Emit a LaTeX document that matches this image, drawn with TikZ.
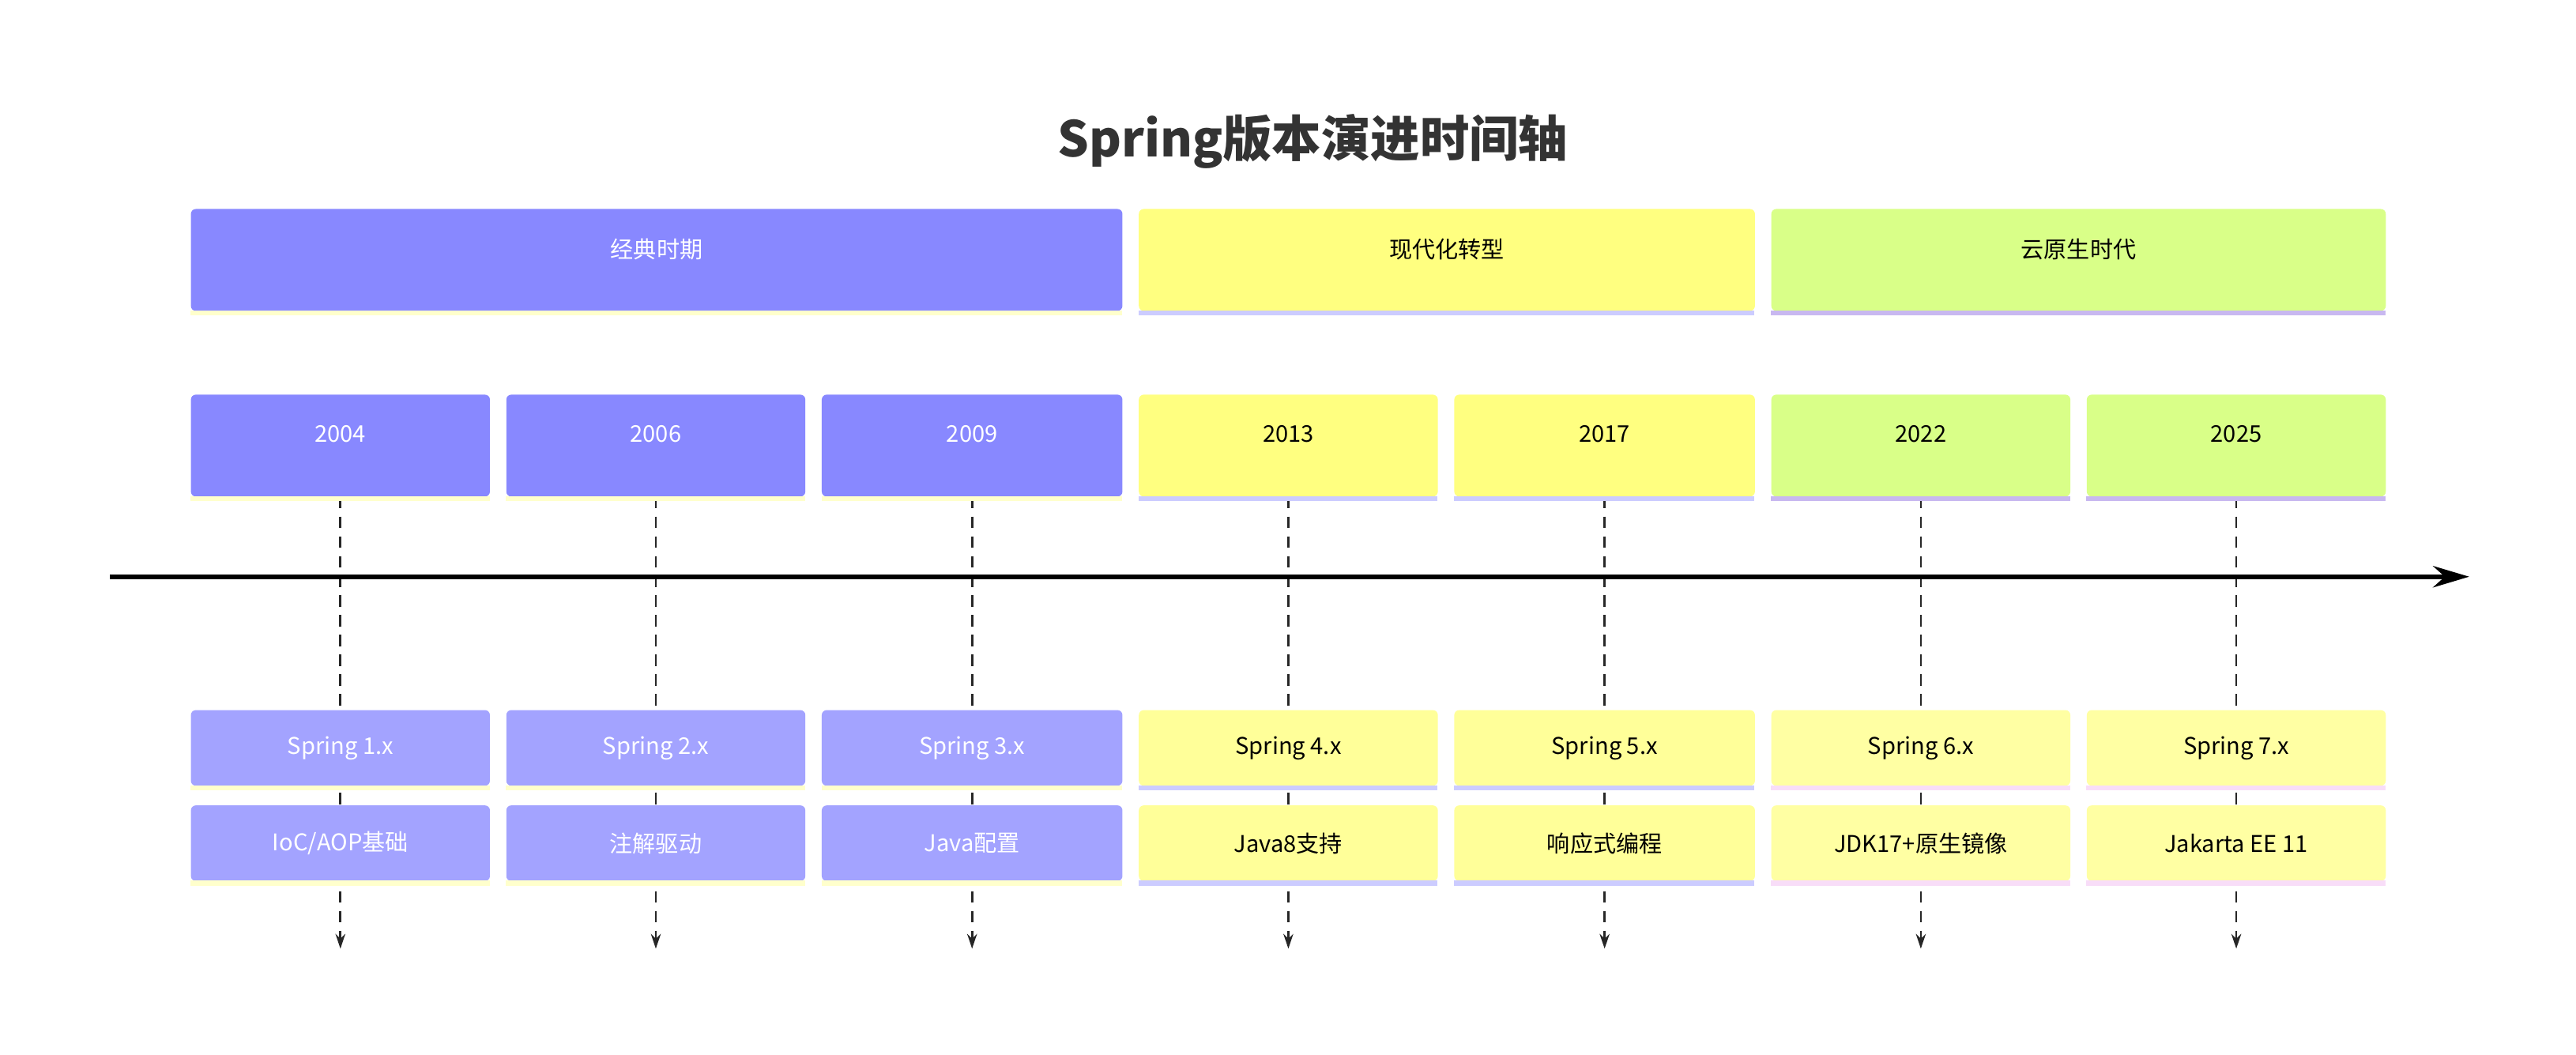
\documentclass[tikz,border=0pt]{standalone}
\usepackage{fontspec}
\setmainfont{Noto Sans CJK SC}
\usetikzlibrary{arrows.meta,backgrounds,calc}
\definecolor{cA}{HTML}{8888FF}\definecolor{cAl}{HTML}{A3A3FF}\definecolor{sA}{HTML}{FFFFCC}
\definecolor{cB}{HTML}{FFFF80}\definecolor{cBl}{HTML}{FFFF99}\definecolor{sB}{HTML}{CCCCFF}
\definecolor{cC}{HTML}{D9FF88}\definecolor{cCl}{HTML}{FFFFA3}\definecolor{sC}{HTML}{F8DDF8}
\definecolor{sCp}{HTML}{C8B8F0}
\tikzset{x=1pt,y=-1pt,
 box/.style={inner sep=0pt,rounded corners=3pt,font=\fontsize{14}{16}\selectfont},
 ydash/.style={dash pattern=on 7pt off 5pt,line width=1.3pt,-{Stealth[length=9pt,width=6pt]},color=black!85}}
\newcommand{\mybox}[9]{% name, x1, x2, y1, y2, fill, strip, textcolor, text
 \node[box,fill=#6,text=#8,minimum width=#3-#2,minimum height=#5-#4,anchor=north west] (#1) at (#2,#4) {#9};
 \fill[#7] (#2,#5) rectangle (#3,#5+3);}
\begin{document}
\begin{tikzpicture}
\useasboundingbox (0,0) rectangle (1568,642);
\node[font=\fontsize{30}{34}\selectfont\bfseries,text=black!80] (title) at (799,86) {Spring版本演进时间轴};
\mybox{p1}{116}{683}{127}{189}{cA}{sA}{white}{\raisebox{14pt}{经典时期}}
\mybox{p2}{693}{1068}{127}{189}{cB}{sB}{black}{\raisebox{14pt}{现代化转型}}
\mybox{p3}{1078}{1452}{127}{189}{cC}{sCp}{black}{\raisebox{14pt}{云原生时代}}
\foreach \n/\a/\b/\fc/\sc/\tc/\fl/\sl/\yr/\v/\d in {
 1/116/298/cA/sA/white/cAl/sA/2004/Spring 1.x/IoC\slash AOP基础,
 2/308/490/cA/sA/white/cAl/sA/2006/Spring 2.x/注解驱动,
 3/500/683/cA/sA/white/cAl/sA/2009/Spring 3.x/Java配置,
 4/693/875/cB/sB/black/cBl/sB/2013/Spring 4.x/Java8支持,
 5/885/1068/cB/sB/black/cBl/sB/2017/Spring 5.x/响应式编程,
 6/1078/1260/cC/sCp/black/cCl/sC/2022/Spring 6.x/JDK17+原生镜像,
 7/1270/1452/cC/sCp/black/cCl/sC/2025/Spring 7.x/Jakarta EE 11}{
 \mybox{y\n}{\a}{\b}{240}{302}{\fc}{\sc}{\tc}{\raisebox{14pt}{\yr}}
 \mybox{v\n}{\a}{\b}{432}{478}{\fl}{\sl}{\tc}{\v}
 \mybox{d\n}{\a}{\b}{490}{536}{\fl}{\sl}{\tc}{\d}
 \coordinate (e\n) at ($(y\n.south)+(0,275)$);
 \begin{scope}[on background layer]
 \draw[ydash] (y\n.south) -- (e\n);
 \end{scope}
}
\coordinate (a0) at (67,351); \coordinate (a1) at (1503,351);
\draw[line width=3pt,-{Stealth[length=22pt,width=13pt]}] (a0) -- (a1);
\end{tikzpicture}
\end{document}
